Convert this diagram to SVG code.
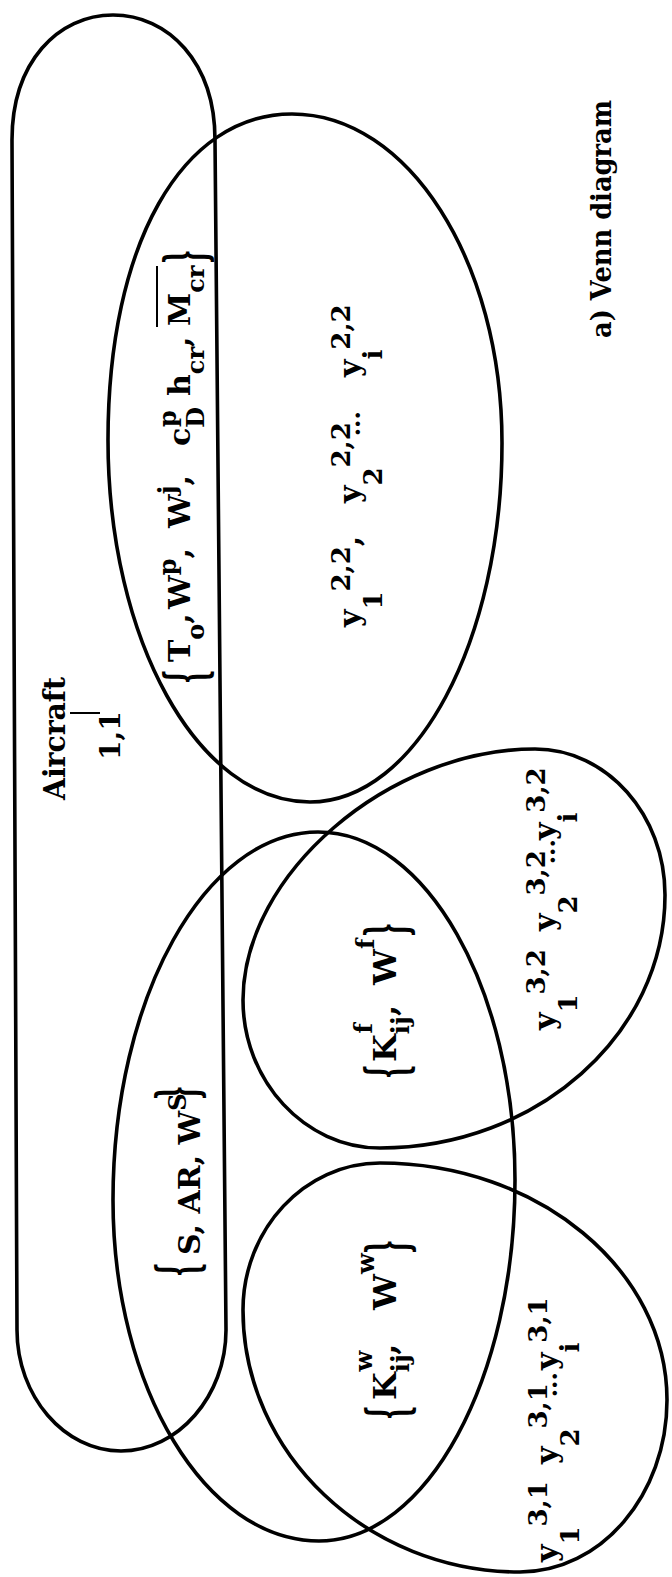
<svg xmlns="http://www.w3.org/2000/svg" width="672" height="1577" viewBox="0 0 672 1577">
<style>
.sh{fill:none;stroke:#000;stroke-width:3.6;stroke-linejoin:round}
.t{font-family:"DejaVu Serif","Liberation Serif",serif;font-weight:bold;fill:#000}
.m{font-size:30px}
.k{font-size:32px}
.s{font-size:24px}
.s2{font-size:26px}
.br{font-family:"DejaVu Serif","Liberation Serif",serif;font-weight:bold;font-size:56px;fill:#000}
.thin{stroke:#000;stroke-width:2;fill:none}
</style>
<rect width="672" height="1577" fill="#fff"/>
<g id="connectors"></g>

<g id="aircraft">
<path class="sh" d="M12,140 C12,62 58,15 113,15 C168,15 215,62 215,140 L226,1330 C226,1396 178,1451 121,1451 C64,1451 17,1396 17,1330 Z"/>
<line class="thin" x1="70" y1="713" x2="100" y2="713" stroke-width="1.5"/>
<g transform="rotate(-90)">
<text class="t" x="-800" y="65" font-size="30" textLength="123" lengthAdjust="spacingAndGlyphs">Aircraft</text>
<text class="t" x="-760" y="120" font-size="28">1,1</text>
</g>
</g>

<g id="set-22">
<path class="sh" d="M292,114 C408,114 502,261 502,443 C502,641 416,802 310,802 C198,802 108,640 108,440 C108,244 182,114 292,114 Z"/>
<line class="thin" x1="157" y1="327" x2="157" y2="266"/>
<g transform="rotate(-90)">
<text class="br" transform="translate(-684,205) scale(0.4,1)">{</text>
<text class="t m" x="-662" y="190">T<tspan class="s" dy="14">o</tspan><tspan dy="-14">,</tspan></text>
<text class="t m" x="-609" y="190">W<tspan class="s" dy="-14">p</tspan><tspan dy="14">,</tspan></text>
<text class="t m" x="-528" y="190">W<tspan class="s" dy="-14">j</tspan><tspan dy="14">,</tspan></text>
<text class="t m" x="-446" y="190">c<tspan class="s" dy="14">D</tspan><tspan class="s" dx="-20" dy="-28">p</tspan></text>
<text class="t m" x="-396" y="190">h<tspan class="s" dy="14">cr</tspan><tspan dy="-14">,</tspan></text>
<text class="t m" x="-326" y="190">M<tspan class="s" dy="14">cr</tspan></text>
<text class="br" transform="translate(-264,205) scale(0.4,1)">}</text>
<text class="t m" x="-627" y="360">y<tspan class="s2" dy="22">1</tspan><tspan class="s2" dy="-32">2,2</tspan><tspan dy="10">,</tspan></text>
<text class="t m" x="-503" y="360">y<tspan class="s2" dy="22">2</tspan><tspan class="s2" dy="-32">2,2</tspan><tspan class="s" dx="-14" dy="10">...</tspan></text>
<text class="t m" x="-377" y="360">y<tspan class="s2" dy="22">i</tspan><tspan class="s2" dy="-32">2,2</tspan></text>
</g>
</g>

<g id="set-S">
<path class="sh" d="M318,832 C426,832 515,989 515,1180 C515,1379 427,1541 319,1541 C206,1541 113,1388 113,1200 C113,998 205,832 318,832 Z"/>
<g transform="rotate(-90)">
<text class="br" transform="translate(-1277,197) scale(0.4,1)">{</text>
<text class="t m" x="-1255" y="200">S, AR, W<tspan class="s" dy="-14">S</tspan></text>
<text class="br" transform="translate(-1100,197) scale(0.4,1)">}</text>
</g>
</g>

<g id="set-32">
<path class="sh" d="M535,749 C607,749 665,815 665,895 C665,1034 537,1148 380,1148 C305,1148 243,1081 243,1000 C243,874 389,749 535,749 Z"/>
<g transform="rotate(-90)">
<text class="br" transform="translate(-1079,406) scale(0.4,1)">{</text>
<text class="t k" x="-1062" y="396">K<tspan class="s" dy="13">ij</tspan><tspan class="s" dx="-17" dy="-37">f</tspan><tspan dx="7" dy="24">,</tspan></text>
<text class="t k" x="-985" y="396">W<tspan class="s" dy="-22">f</tspan></text>
<text class="br" transform="translate(-937,406) scale(0.4,1)">}</text>
<text class="t m" x="-1030" y="555">y<tspan class="s2" dy="22">1</tspan><tspan class="s2" dy="-32">3,2</tspan></text>
<text class="t m" x="-931" y="555">y<tspan class="s2" dy="22">2</tspan><tspan class="s2" dy="-32">3,2</tspan><tspan class="s" dx="-14" dy="10">...</tspan></text>
<text class="t m" x="-840" y="555">y<tspan class="s2" dy="22">i</tspan><tspan class="s2" dy="-32">3,2</tspan></text>
</g>
</g>

<g id="set-31">
<path class="sh" d="M380,1163 C538,1163 667,1270 667,1400 C667,1495 601,1572 520,1572 C368,1572 243,1454 243,1310 C243,1229 305,1163 380,1163 Z"/>
<g transform="rotate(-90)">
<text class="br" transform="translate(-1420,407) scale(0.4,1)">{</text>
<text class="t k" x="-1400" y="396">K<tspan class="s" dy="13">ij</tspan><tspan class="s" dx="-17" dy="-37">w</tspan><tspan dx="-4" dy="24">,</tspan></text>
<text class="t k" x="-1310" y="396">W<tspan class="s" dy="-22">w</tspan></text>
<text class="br" transform="translate(-1254,407) scale(0.4,1)">}</text>
<text class="t m" x="-1562" y="557">y<tspan class="s2" dy="22">1</tspan><tspan class="s2" dy="-32">3,1</tspan></text>
<text class="t m" x="-1464" y="557">y<tspan class="s2" dy="22">2</tspan><tspan class="s2" dy="-32">3,1</tspan><tspan class="s" dx="-14" dy="10">...</tspan></text>
<text class="t m" x="-1370" y="557">y<tspan class="s2" dy="22">i</tspan><tspan class="s2" dy="-32">3,1</tspan></text>
</g>
</g>

<g id="caption">
<text class="t" transform="rotate(-90)" x="-338" y="611" font-size="27" textLength="238" lengthAdjust="spacingAndGlyphs">a) Venn diagram</text>
</g>
</svg>
